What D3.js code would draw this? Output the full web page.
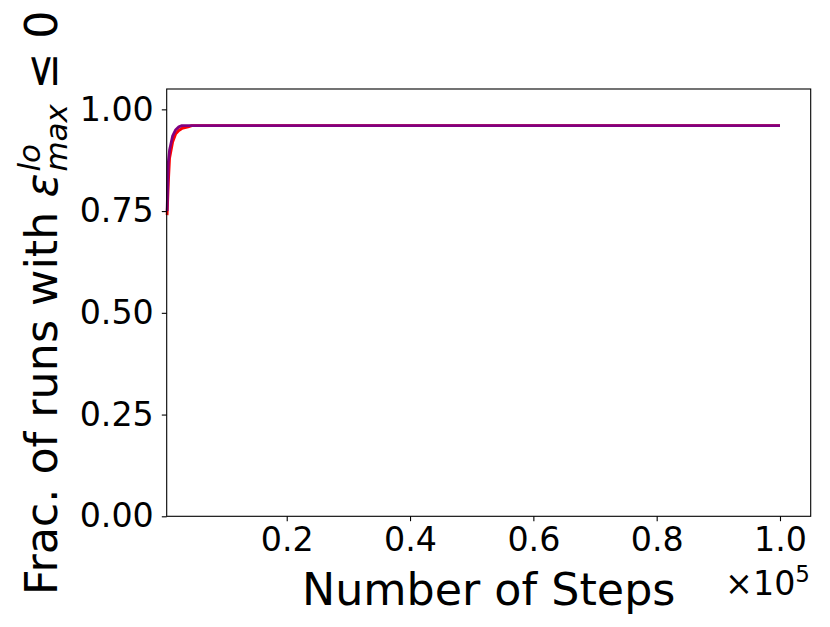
<!DOCTYPE html>
<html>
<head>
<meta charset="utf-8">
<script src="https://d3js.org/d3.v7.min.js"></script>
<style>
  body { margin: 0; background: #fff; }
  text { font-family: "DejaVu Sans", sans-serif; fill: #000; white-space: pre; }
</style>
</head>
<body>
<svg id="chart" width="830" height="627"></svg>
<script>
// steps (x) and fraction of runs (y)
const redSteps   = [600, 800, 1000, 1500, 2000, 2500, 3000, 4000, 4600, 100000];
const redVals    = [0.74, 0.82, 0.88, 0.92, 0.94, 0.948, 0.953, 0.957, 0.96, 0.96];
const purpSteps  = [600, 800, 1000, 1500, 2000, 2500, 3000, 100000];
const purpVals   = [0.75, 0.87, 0.90, 0.935, 0.95, 0.957, 0.96, 0.96];
const xTicks = [20000, 40000, 60000, 80000, 100000];
const xTickLabels = ["0.2", "0.4", "0.6", "0.8", "1.0"];
const yTicks = [0, 0.25, 0.5, 0.75, 1.0];
const yTickLabels = ["0.00", "0.25", "0.50", "0.75", "1.00"];

const svg = d3.select("#chart");
const mLeft = 166.7, mTop = 89, mRight = 810.7, mBottom = 516.3;
const tickFs = 33.3;

const x = d3.scaleLinear().domain([535, 104980]).range([mLeft, mRight]);
const y = d3.scaleLinear().domain([0, 1.05]).range([mBottom, mTop]);

const line = d3.line().x(d => x(d[0])).y(d => y(d[1]));

function series(steps, vals, color) {
  svg.append("path")
    .datum(steps.map((s, i) => [s, vals[i]]))
    .attr("fill", "none")
    .attr("stroke", color)
    .attr("stroke-width", 2.8)
    .attr("stroke-linejoin", "round")
    .attr("d", line);
}
series(redSteps, redVals, "red");
series(purpSteps, purpVals, "purple");

// x axis
const xAxis = svg.append("g")
  .attr("transform", "translate(0," + mBottom + ")")
  .call(d3.axisBottom(x).tickValues(xTicks).tickFormat((d, i) => xTickLabels[i]).tickSize(4.9).tickPadding(6));
xAxis.select(".domain").remove();
xAxis.selectAll(".tick line").attr("stroke", "#000").attr("stroke-width", 1.1);
xAxis.selectAll(".tick text").attr("font-size", tickFs + "px").attr("font-family", "DejaVu Sans").attr("dy", "0.71em");

// y axis
const yAxis = svg.append("g")
  .attr("transform", "translate(" + mLeft + ",0)")
  .call(d3.axisLeft(y).tickValues(yTicks).tickFormat((d, i) => yTickLabels[i]).tickSize(4.9).tickPadding(8));
yAxis.select(".domain").remove();
yAxis.selectAll(".tick line").attr("stroke", "#000").attr("stroke-width", 1.1);
yAxis.selectAll(".tick text").attr("font-size", tickFs + "px").attr("font-family", "DejaVu Sans");

// frame
svg.append("rect")
  .attr("x", mLeft).attr("y", mTop)
  .attr("width", mRight - mLeft).attr("height", mBottom - mTop)
  .attr("fill", "none").attr("stroke", "#000").attr("stroke-width", 1.1);

// x label
svg.append("text")
  .attr("x", (mLeft + mRight) / 2).attr("y", 605)
  .attr("text-anchor", "middle")
  .attr("font-size", "44.4px")
  .text("Number of Steps");

// offset text
const off = svg.append("text")
  .attr("x", 810).attr("y", 595)
  .attr("text-anchor", "end")
  .attr("font-size", tickFs + "px");
off.append("tspan").text("\u00d710");
off.append("tspan").attr("font-size", "23px").attr("dy", "-13").text("5");

// y label with math
const yl = svg.append("g").attr("transform", "translate(56.7," + (mTop + mBottom) / 2 + ") rotate(-90)");
const fs = 44.4, small = 31;
let pos = 0;
function piece(str, size, dy, italic) {
  return yl.append("text").attr("x", pos).attr("y", dy)
    .attr("font-size", size + "px")
    .attr("font-style", italic ? "italic" : "normal")
    .text(str);
}
const p1 = piece("Frac. of runs with ", fs, 0, false);
pos += p1.node().getComputedTextLength();
const eps = piece("\u03b5", fs, 0, true);
pos += eps.node().getComputedTextLength() + 2;
const sup = piece("lo", small, -17, true);
const sub = piece("max", small, 10, true);
pos += Math.max(sup.node().getComputedTextLength(), sub.node().getComputedTextLength());
const p3 = piece(" \u2264 0", fs, 0, false);
pos += p3.node().getComputedTextLength();
yl.selectAll("text").attr("transform", "translate(" + (-pos / 2) + ",0)");
</script>
</body>
</html>
